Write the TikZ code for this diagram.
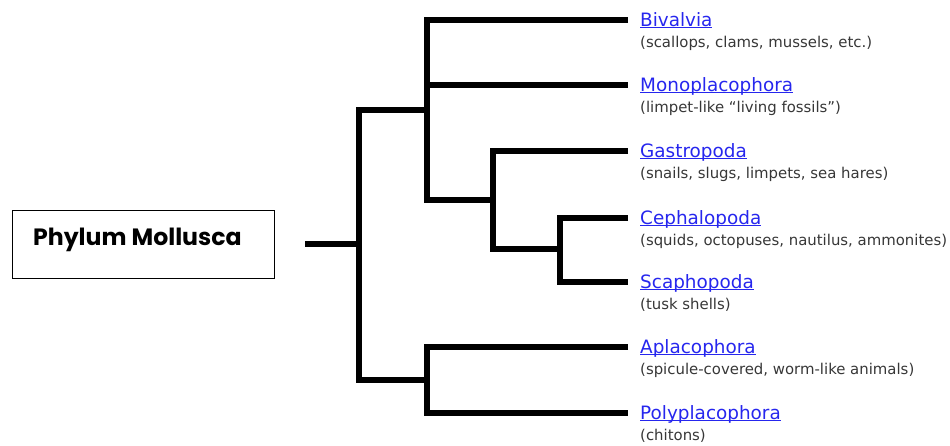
\documentclass[tikz,border=0pt]{standalone}
\usepackage{fontspec}
\setmainfont{DejaVu Sans}
\newfontfamily\boxfont{Poppins}
\usetikzlibrary{positioning}
\definecolor{linkblue}{RGB}{38,38,238}
\definecolor{descgray}{RGB}{55,55,55}
\newcommand\taxlink[1]{\setbox0=\hbox{#1}\rlap{\rule[-2.4pt]{\wd0}{1.1pt}}\box0}

\begin{document}
\begin{tikzpicture}[x=1pt, y=-1pt, node distance=12pt,
    branch/.style={line width=6.5pt, line join=miter},
    taxon/.style={anchor=west, inner sep=0pt, text height=14pt, text depth=2pt,
      font=\fontsize{18.4}{20}\selectfont, text=linkblue},
    descr/.style={inner sep=0pt, text height=11pt, text depth=3pt,
      font=\fontsize{14.9}{17}\selectfont, text=descgray},
    phylum/.style={draw, line width=1.5pt, minimum width=262pt, minimum height=68pt, inner sep=0pt}]
      \useasboundingbox (0,0) rectangle (950,445);

      \node[phylum] (phylum) at (143.5,244.5) {};
      \node[anchor=base west, inner sep=0pt, font=\boxfont\bfseries\fontsize{23.6}{26}\selectfont] (title) at (33,245) {Phylum Mollusca};

      % branch points
      \coordinate (rootL) at (305,244);
      \coordinate (root) at (359,244);
      \coordinate (U) at (427,110);
      \coordinate (L) at (427,380);
      \coordinate (G) at (493,200);
      \coordinate (C) at (560,249);

      % tips
      \coordinate (bivT) at (628,20);
      \coordinate (monT) at (628,85);
      \coordinate (gasT) at (628,151);
      \coordinate (cepT) at (628,218);
      \coordinate (scaT) at (628,282);
      \coordinate (aplT) at (628,347);
      \coordinate (polT) at (628,413);

      \draw[branch] (rootL) -- (root);
      \draw[branch] (U) -| (root) |- (L);
      \draw[branch] (bivT) -| (U) |- (G);
      \draw[branch] (U) |- (monT);
      \draw[branch] (gasT) -| (G) |- (C);
      \draw[branch] (cepT) -| (C) |- (scaT);
      \draw[branch] (aplT) -| (L) |- (polT);

      \node[taxon, right=of bivT] (biv) {\taxlink{Bivalvia}};
      \node[taxon, right=of monT] (mon) {\taxlink{Monoplacophora}};
      \node[taxon, right=of gasT] (gas) {\taxlink{Gastropoda}};
      \node[taxon, right=of cepT] (cep) {\taxlink{Cephalopoda}};
      \node[taxon, right=of scaT] (sca) {\taxlink{Scaphopoda}};
      \node[taxon, right=of aplT] (apl) {\taxlink{Aplacophora}};
      \node[taxon, right=of polT] (pol) {\taxlink{Polyplacophora}};

      \node[descr, below=8pt of biv.south west, anchor=north west] (bivD) {(scallops, clams, mussels, etc.)};
      \node[descr, below=8pt of mon.south west, anchor=north west] (monD) {(limpet-like “living fossils”)};
      \node[descr, below=8pt of gas.south west, anchor=north west] (gasD) {(snails, slugs, limpets, sea hares)};
      \node[descr, below=8pt of cep.south west, anchor=north west] (cepD) {(squids, octopuses, nautilus, ammonites)};
      \node[descr, below=8pt of sca.south west, anchor=north west] (scaD) {(tusk shells)};
      \node[descr, below=8pt of apl.south west, anchor=north west] (aplD) {(spicule-covered, worm-like animals)};
      \node[descr, below=8pt of pol.south west, anchor=north west] (polD) {(chitons)};

    \end{tikzpicture}
\end{document}
